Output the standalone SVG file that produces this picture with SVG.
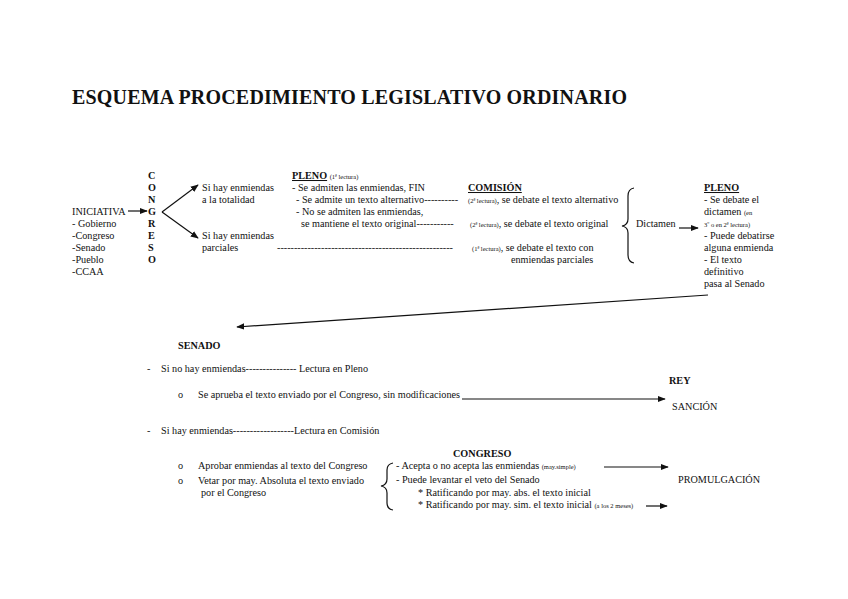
<svg xmlns="http://www.w3.org/2000/svg" width="848" height="599" viewBox="0 0 848 599" font-family="Liberation Serif, Tinos, DejaVu Serif, serif">
<style>
text{font-family:'Liberation Serif',Tinos,'DejaVu Serif',serif;font-size:10.2px;fill:#111}
.b{font-weight:bold}
.u{text-decoration:underline}
.t{font-size:20px;font-weight:bold}
.s{font-size:6.5px}
.ln{stroke:#111;stroke-width:1.2;fill:none}
</style>
<defs>
<marker id="ah" viewBox="0 0 10 10" refX="9" refY="5" markerWidth="8" markerHeight="8" markerUnits="userSpaceOnUse" orient="auto">
<path d="M0,1 L10,5 L0,9 Z" fill="#111"/>
</marker>
</defs>
<rect width="848" height="599" fill="#fff"/>
<g id="title"><text x="72" y="104" class="t" textLength="555" lengthAdjust="spacing">ESQUEMA PROCEDIMIENTO LEGISLATIVO ORDINARIO</text></g>
<g id="iniciativa">
<text x="72" y="215">INICIATIVA</text>
<text x="72" y="227">- Gobierno</text>
<text x="72" y="239">-Congreso</text>
<text x="72" y="251">-Senado</text>
<text x="72" y="263">-Pueblo</text>
<text x="72" y="275">-CCAA</text>
</g>
<g id="congreso-vertical">
<text x="148" y="179" class="b">C</text>
<text x="148" y="191" class="b">O</text>
<text x="148" y="203" class="b">N</text>
<text x="148" y="215" class="b">G</text>
<text x="148" y="227" class="b">R</text>
<text x="148" y="239" class="b">E</text>
<text x="148" y="251" class="b">S</text>
<text x="148" y="263" class="b">O</text>
</g>
<g id="enmiendas-totalidad">
<text x="202" y="191">Si hay enmiendas</text>
<text x="202" y="203">a la totalidad</text>
</g>
<g id="enmiendas-parciales">
<text x="202" y="239">Si hay enmiendas</text>
<text x="202" y="251">parciales</text>
</g>
<g id="pleno1">
<text x="292" y="179"><tspan class="b u">PLENO</tspan> <tspan class="s">(1ª lectura)</tspan></text>
<text x="292" y="191">- Se admiten las enmiendas, FIN</text>
<text x="296" y="203">- Se admite un texto alternativo----------</text>
<text x="296" y="215">- No se admiten las enmiendas,</text>
<text x="301" y="227">se mantiene el texto original-----------</text>
<text x="277" y="251" textLength="176" lengthAdjust="spacing">----------------------------------------------------</text>
</g>
<g id="comision">
<text x="468" y="191" class="b u">COMISIÓN</text>
<text x="468" y="203"><tspan class="s">(2ª lectura)</tspan>, se debate el texto alternativo</text>
<text x="470" y="227"><tspan class="s">(2ª lectura)</tspan>, se debate el texto original</text>
<text x="472" y="251"><tspan class="s">(1ª lectura)</tspan>, se debate el texto con</text>
<text x="511" y="263">enmiendas parciales</text>
</g>
<g id="dictamen">
<path class="ln" d="M634,188 Q628,189 628,196 L628,219 Q628,225 622,226 Q628,227 628,233 L628,255 Q628,262 634,263"/>
<text x="636" y="227">Dictamen</text>
</g>
<g id="pleno2">
<text x="704" y="191" class="b u">PLENO</text>
<text x="704" y="203">- Se debate el</text>
<text x="704" y="215">dictamen <tspan class="s">(en</tspan></text>
<text x="704" y="227" class="s">3º o en 2ª lectura)</text>
<text x="704" y="239">- Puede debatirse</text>
<text x="704" y="251">alguna enmienda</text>
<text x="704" y="263">- El texto</text>
<text x="704" y="275">definitivo</text>
<text x="704" y="287">pasa al Senado</text>
</g>
<g id="senado">
<text x="178" y="349" class="b">SENADO</text>
<text x="147" y="372">-</text>
<text x="161" y="372">Si no hay enmiendas--------------- Lectura en Pleno</text>
<text x="178" y="398">o</text>
<text x="198" y="398">Se aprueba el texto enviado por el Congreso, sin modificaciones</text>
<text x="147" y="434">-</text>
<text x="161" y="434">Si hay enmiendas------------------Lectura en Comisión</text>
<text x="178" y="469">o</text>
<text x="198" y="469">Aprobar enmiendas al texto del Congreso</text>
<text x="178" y="484">o</text>
<text x="198" y="484">Vetar por may. Absoluta el texto enviado</text>
<text x="201" y="496">por el Congreso</text>
</g>
<g id="rey">
<text x="669" y="384" class="b">REY</text>
<text x="672" y="410">SANCIÓN</text>
</g>
<g id="congreso2">
<text x="453" y="457" class="b">CONGRESO</text>
<path class="ln" d="M393,463 Q387,464 387,470 L387,479 Q387,485 381,486 Q387,487 387,493 L387,503 Q387,509 393,510"/>
<text x="396" y="469">- Acepta o no acepta las enmiendas <tspan class="s">(may.simple)</tspan></text>
<text x="396" y="483">- Puede levantar el veto del Senado</text>
<text x="418" y="496">* Ratificando por may. abs. el texto inicial</text>
<text x="418" y="508">* Ratificando por may. sim. el texto inicial <tspan class="s">(a los 2 meses)</tspan></text>
</g>
<g id="promulgacion"><text x="678" y="483">PROMULGACIÓN</text></g>
<g id="connectors">
<line class="ln" x1="128" y1="211" x2="147" y2="211" marker-end="url(#ah)"/>
<line class="ln" x1="162" y1="212" x2="198" y2="185" marker-end="url(#ah)"/>
<line class="ln" x1="162" y1="212" x2="198" y2="238" marker-end="url(#ah)"/>
<line class="ln" x1="679" y1="228" x2="698" y2="228" marker-end="url(#ah)"/>
<line class="ln" x1="708" y1="295" x2="237" y2="327" stroke-width="1.5" marker-end="url(#ah)"/>
<line class="ln" x1="462" y1="399" x2="665" y2="399" stroke-width="1.5" marker-end="url(#ah)"/>
<line class="ln" x1="604" y1="467" x2="668" y2="467" marker-end="url(#ah)"/>
<line class="ln" x1="646" y1="506" x2="667" y2="506" marker-end="url(#ah)"/>
</g>
</svg>
